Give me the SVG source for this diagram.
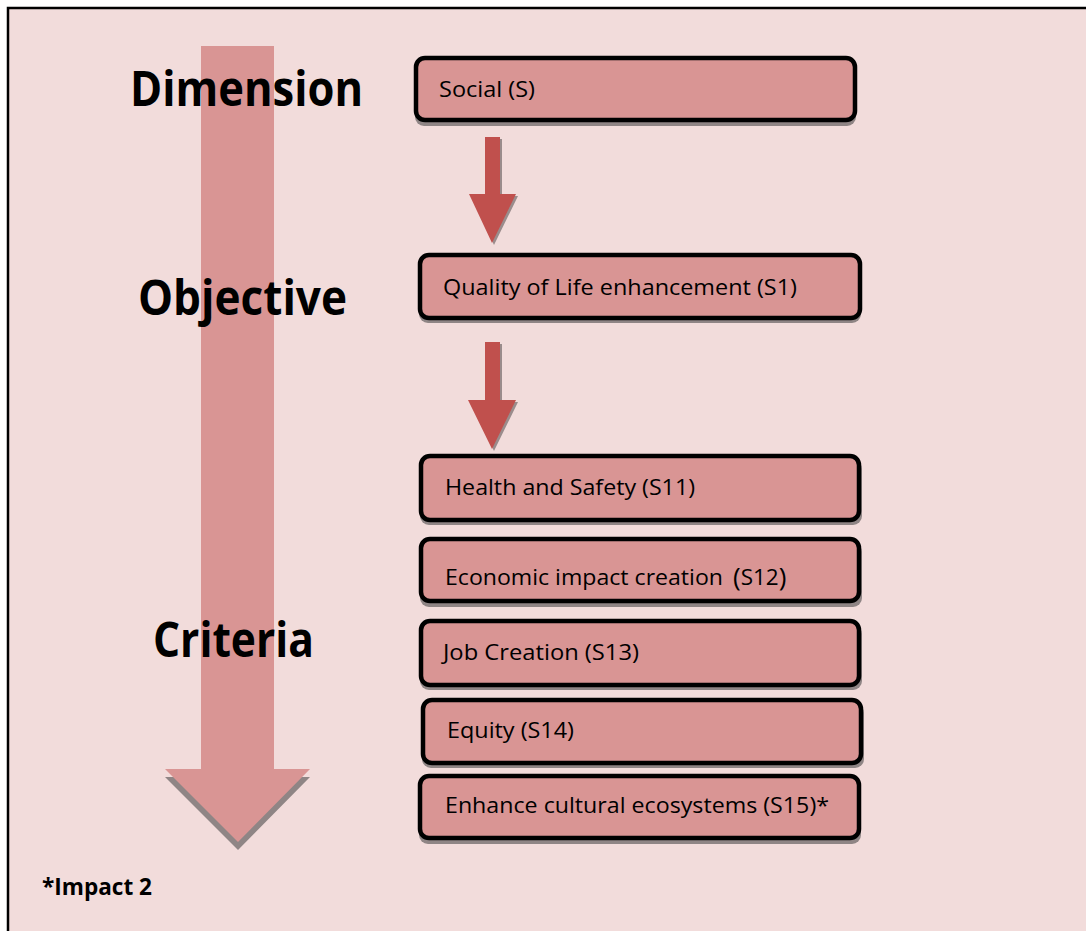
<svg xmlns="http://www.w3.org/2000/svg" width="1086" height="931" viewBox="0 0 1086 931">
<defs>
<style>
.bg{fill:#f2dcdb;stroke:#000;stroke-width:2.5}
.box{fill:#d99594;stroke:#000;stroke-width:4.5}
.shadow{fill:#8f8585}
.lbl{font-family:"Open Sans","Liberation Sans",sans-serif;font-size:22.5px;fill:#000}
.big{font-family:"Open Sans","Liberation Sans",sans-serif;font-weight:bold;font-size:48px;fill:#000}
.note{font-family:"Open Sans","Liberation Sans",sans-serif;font-weight:bold;font-size:23px;fill:#000}
.arr{fill:#c0504d}
.arrsh{fill:#9a8c8c}
</style>
</defs>
<rect x="8" y="8" width="1090" height="935" class="bg"/>

<g id="big-arrow">
<polygon class="shadow" points="201,54 274,54 274,777 310,777 238,850 165,777 201,777"/>
<polygon fill="#d99594" points="201,46 274,46 274,769 310,769 238,842 165,769 201,769"/>
</g>

<g id="level-labels">
<text class="big" x="130" y="106" textLength="233" lengthAdjust="spacingAndGlyphs">Dimension</text>
<text class="big" x="138" y="315" textLength="209" lengthAdjust="spacingAndGlyphs">Objective</text>
<text class="big" x="153" y="657" textLength="161" lengthAdjust="spacingAndGlyphs">Criteria</text>
</g>

<g id="connectors">
<g id="arrow1">
<polygon class="arrsh" points="487,139 502,139 502,196 518,196 494,245 471,196 487,196"/>
<polygon class="arr" points="485,137 500,137 500,194 516,194 492,243 469,194 485,194"/>
</g>
<g id="arrow2">
<polygon class="arrsh" points="487,344 502,344 502,402 518,402 494,451 470,402 487,402"/>
<polygon class="arr" points="485,342 500,342 500,400 516,400 492,449 468,400 485,400"/>
</g>
</g>

<g id="node-social">
<rect class="shadow" x="415" y="62" width="441" height="64" rx="9"/>
<rect class="box" x="416" y="58" width="439" height="62" rx="9"/>
<text class="lbl" x="439" y="97" textLength="96" lengthAdjust="spacingAndGlyphs">Social (S)</text>
</g>

<g id="node-s1">
<rect class="shadow" x="419" y="259" width="442" height="64" rx="9"/>
<rect class="box" x="420" y="255" width="440" height="63" rx="9"/>
<text class="lbl" x="443" y="295" textLength="354" lengthAdjust="spacingAndGlyphs">Quality of Life enhancement (S1)</text>
</g>

<g id="node-s11">
<rect class="shadow" x="420" y="460" width="442" height="65" rx="9"/>
<rect class="box" x="421" y="456" width="438" height="64" rx="9"/>
<text class="lbl" x="445" y="495" textLength="250" lengthAdjust="spacingAndGlyphs">Health and Safety (S11)</text>
</g>

<g id="node-s12">
<rect class="shadow" x="420" y="543" width="442" height="64" rx="9"/>
<rect class="box" x="421" y="539" width="438" height="62" rx="9"/>
<text class="lbl" x="445" y="585"><tspan textLength="278" lengthAdjust="spacingAndGlyphs">Economic impact creation</tspan><tspan x="733" font-size="26" dy="1">(</tspan><tspan dy="-1">S12</tspan><tspan font-size="26" dy="1">)</tspan></text>
</g>

<g id="node-s13">
<rect class="shadow" x="420" y="625" width="442" height="65" rx="9"/>
<rect class="box" x="421" y="621" width="438" height="64" rx="9"/>
<text class="lbl" x="443" y="660" textLength="196" lengthAdjust="spacingAndGlyphs">Job Creation (S13)</text>
</g>

<g id="node-s14">
<rect class="shadow" x="422" y="704" width="442" height="64" rx="9"/>
<rect class="box" x="423" y="700" width="438" height="63" rx="9"/>
<text class="lbl" x="447" y="738" textLength="127" lengthAdjust="spacingAndGlyphs">Equity (S14)</text>
</g>

<g id="node-s15">
<rect class="shadow" x="419" y="780" width="442" height="64" rx="9"/>
<rect class="box" x="420" y="776" width="439" height="62" rx="9"/>
<text class="lbl" x="445" y="813" textLength="384" lengthAdjust="spacingAndGlyphs">Enhance cultural ecosystems (S15)*</text>
</g>

<text class="note" x="42" y="895" textLength="110" lengthAdjust="spacingAndGlyphs">*Impact 2</text>
</svg>
